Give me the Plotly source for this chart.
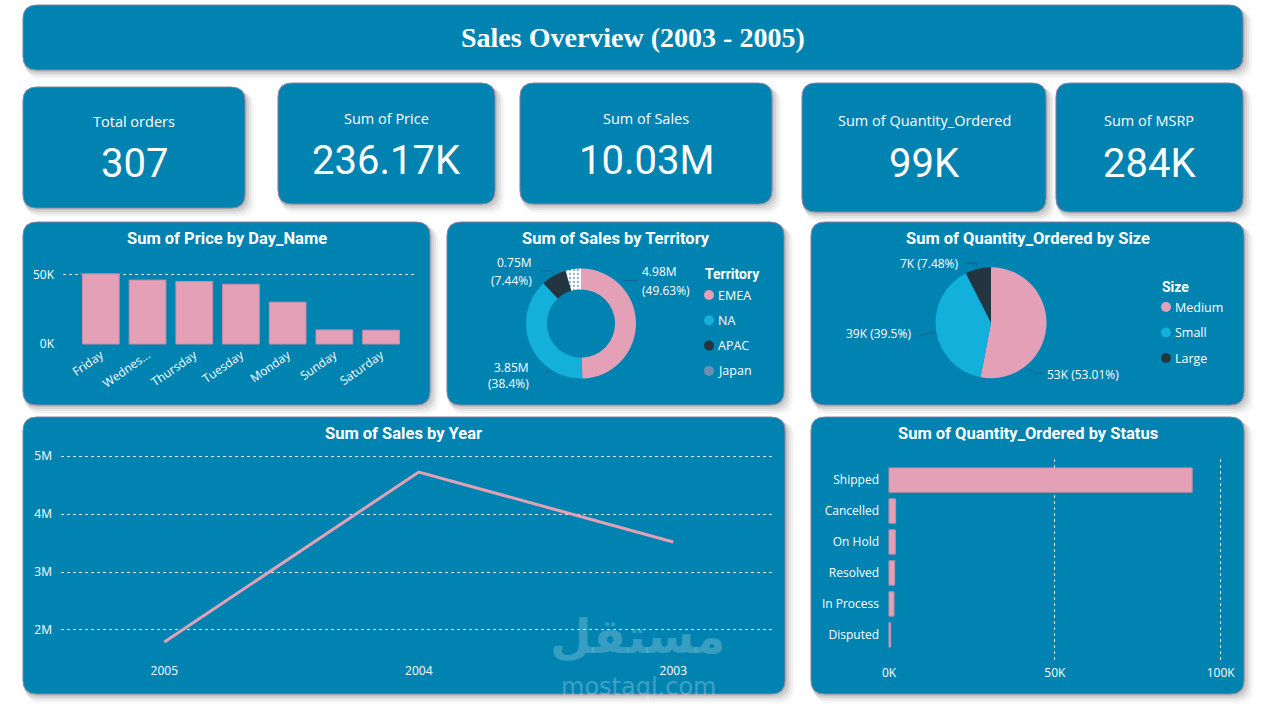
import plotly.graph_objects as go

W, H = 1275, 710

# ---------------- data ----------------
kpi_labels = ["Total orders", "Sum of Price", "Sum of Sales", "Sum of Quantity_Ordered", "Sum of MSRP"]
kpi_values = ["307", "236.17K", "10.03M", "99K", "284K"]

days = ["Friday", "Wednesday", "Thursday", "Tuesday", "Monday", "Sunday", "Saturday"]
day_ticktext = ["Friday", "Wednes...", "Thursday", "Tuesday", "Monday", "Sunday", "Saturday"]
price_by_day = [50800, 46300, 45300, 43300, 30300, 10200, 10000]
day_y_ticks = [0, 50000]
day_y_ticktext = ["0K", "50K"]

territories = ["EMEA", "NA", "APAC", "Japan"]
sales_by_territory = [4979272.41, 3852061.39, 746121.83, 455173.22]

sizes = ["Medium", "Small", "Large"]
qty_by_size = [52519, 39135, 7413]

years = ["2005", "2004", "2003"]
sales_by_year = [1791486.71, 4724162.60, 3516979.54]
year_y_ticks = [2e6, 3e6, 4e6, 5e6]
year_y_ticktext = ["2M", "3M", "4M", "5M"]

statuses = ["Shipped", "Cancelled", "On Hold", "Resolved", "In Process", "Disputed"]
qty_by_status = [91400, 2000, 1900, 1700, 1500, 500]
status_x_ticks = [0, 50000, 100000]
status_x_ticktext = ["0K", "50K", "100K"]

# ---------------- styles ----------------
PANEL = "#0083B1"
PINK = "#E4A0B7"
CYAN = "#12B0DB"
DARK = "#243542"
SLATE = "#6E8FB3"
territory_colors = [PINK, CYAN, DARK, SLATE]
size_colors = [PINK, CYAN, DARK]
WHITE = "#FFFFFF"
F_UI = "Open Sans"
F_DIN = "Roboto"


def X(v):
    return v / W


def Y(v):
    return 1 - v / H


def rrect(x0, y0, x1, y1, r):
    return (f"M{X(x0 + r)},{Y(y0)} L{X(x1 - r)},{Y(y0)} Q{X(x1)},{Y(y0)} {X(x1)},{Y(y0 + r)} "
            f"L{X(x1)},{Y(y1 - r)} Q{X(x1)},{Y(y1)} {X(x1 - r)},{Y(y1)} "
            f"L{X(x0 + r)},{Y(y1)} Q{X(x0)},{Y(y1)} {X(x0)},{Y(y1 - r)} "
            f"L{X(x0)},{Y(y0 + r)} Q{X(x0)},{Y(y0)} {X(x0 + r)},{Y(y0)} Z")


panels = [
    (23, 5, 1243, 70),
    (23, 87, 245, 208), (278, 83, 495, 204), (520, 83, 772, 204), (802, 83, 1046, 212), (1056, 83, 1243, 212),
    (23, 222, 430, 405), (447, 222, 784, 405), (811, 222, 1244, 405),
    (23, 417, 785, 694), (811, 417, 1244, 694),
]

shapes = []
for (x0, y0, x1, y1) in panels:
    for off, a in [(10, 0.02), (8, 0.035), (6, 0.05), (4, 0.07), (2, 0.08)]:
        shapes.append(dict(type="path", xref="paper", yref="paper", layer="below",
                           path=rrect(x0 + off * 0.6 - 2, y0 + off * 0.6, x1 + off, y1 + off, 15),
                           fillcolor=f"rgba(0,0,0,{a})", line=dict(width=0)))
for (x0, y0, x1, y1) in panels:
    shapes.append(dict(type="path", xref="paper", yref="paper", layer="below",
                       path=rrect(x0, y0, x1, y1, 14),
                       fillcolor=PANEL, line=dict(color="#8C7FA0", width=1)))

annotations = []


def text(x, y, s, size, font=F_UI, color=WHITE, anchor="center", bold=False, opacity=1.0):
    annotations.append(dict(x=X(x), y=Y(y), xref="paper", yref="paper", text=(f"<b>{s}</b>" if bold else s),
                            showarrow=False, xanchor=anchor, yanchor="middle",
                            font=dict(family=font, size=size, color=color), opacity=opacity))


# title
text(633, 37, "Sales Overview (2003 - 2005)", 28, font="Liberation Serif", bold=True)

# KPI cards
kpi_pos = [(134, 121, 163), (386, 118, 160), (646, 118, 160), (924, 120, 163), (1149, 120, 163)]
for lab, val, (cx, ly, vy) in zip(kpi_labels, kpi_values, kpi_pos):
    text(cx, ly, lab, 14.5)
    text(cx, vy, val, 40, font=F_DIN)

# panel titles
for s, cx, cy in [("Sum of Price by Day_Name", 227, 238), ("Sum of Sales by Territory", 616, 238),
                  ("Sum of Quantity_Ordered by Size", 1028, 238), ("Sum of Sales by Year", 404, 433),
                  ("Sum of Quantity_Ordered by Status", 1028, 433)]:
    text(cx, cy, s, 16.5, font=F_DIN, bold=True)


def fmt_pct(p):
    s = f"{p:.2f}".rstrip("0").rstrip(".")
    return s + "%"


# donut labels
tot_t = sum(sales_by_territory)
terr_label_pos = [(640, 272, 290, "left"), (531, 367, 384, "right"), (534, 263, 281, "right"), None]
for v, pos in zip(sales_by_territory, terr_label_pos):
    if pos is None:
        continue
    x, y1, y2, anc = pos
    text(x, y1, f"{v / 1e6:.2f}M", 12, anchor=anc)
    text(x, y2, f"({fmt_pct(100 * v / tot_t)})", 12, anchor=anc)

# pie labels
tot_s = sum(qty_by_size)
size_label_pos = [(1045, 374, "left"), (913, 333, "right"), (961, 264, "right")]
for v, (x, y, anc) in zip(qty_by_size, size_label_pos):
    text(x, y, f"{v / 1000:.0f}K ({fmt_pct(100 * v / tot_s)})", 12, anchor=anc)

# leader lines
LEAD = "rgba(50,70,90,0.55)"
for pts in [[(622, 281), (638, 280)], [(545, 374), (551, 370)], [(540, 271), (551, 271), (555, 275)],
            [(964, 263), (976, 263), (977, 267)], [(918, 336), (935, 332)], [(1027, 369), (1036, 373), (1043, 373)]]:
    p = "M" + " L".join(f"{X(a)},{Y(b)}" for a, b in pts)
    shapes.append(dict(type="path", xref="paper", yref="paper", path=p, line=dict(color=LEAD, width=1)))

# manual legends
text(703, 274, "Territory", 14, font=F_DIN, anchor="left", bold=True)
for i, (lab, col) in enumerate(zip(territories, territory_colors)):
    cy = 295 + i * 25.3
    shapes.append(dict(type="circle", xref="paper", yref="paper", x0=X(704), x1=X(714), y0=Y(cy - 5), y1=Y(cy + 5),
                       fillcolor=col, line=dict(width=0)))
    text(716, cy, lab, 12.5, anchor="left")
text(1160, 287, "Size", 14, font=F_DIN, anchor="left", bold=True)
for i, (lab, col) in enumerate(zip(sizes, size_colors)):
    cy = 307 + i * 25.5
    shapes.append(dict(type="circle", xref="paper", yref="paper", x0=X(1161), x1=X(1171), y0=Y(cy - 5), y1=Y(cy + 5),
                       fillcolor=col, line=dict(width=0)))
    text(1173, cy, lab, 12.5, anchor="left")

# watermark
text(638, 636, "مستقل", 48, font="DejaVu Sans", color="rgba(255,255,255,0.22)", bold=True)
text(638, 687, "mostaql.com", 24, font="DejaVu Sans", color="rgba(255,255,255,0.25)")

fig = go.Figure()

# Day bar chart
fig.add_trace(go.Bar(x=days, y=price_by_day, marker=dict(color=PINK, line=dict(color="#C98EA6", width=1)),
                     xaxis="x", yaxis="y", showlegend=False))
# Year line
fig.add_trace(go.Scatter(x=years, y=sales_by_year, mode="lines", line=dict(color=PINK, width=3),
                         xaxis="x2", yaxis="y2", showlegend=False))
# Status bars
fig.add_trace(go.Bar(x=qty_by_status, y=statuses, orientation="h",
                     marker=dict(color=PINK, line=dict(color="#C98EA6", width=1)),
                     xaxis="x3", yaxis="y3", showlegend=False))
# Territory donut
fig.add_trace(go.Pie(labels=territories, values=sales_by_territory, hole=0.62, sort=False,
                     direction="clockwise", rotation=0, textinfo="none", showlegend=False,
                     marker=dict(colors=territory_colors,
                                 pattern=dict(shape=["", "", "", "."], fgcolor="#93ADCA", size=4, solidity=0.25)),
                     domain=dict(x=[X(526), X(636)], y=[Y(378.5), Y(268.5)])))
# Size pie
fig.add_trace(go.Pie(labels=sizes, values=qty_by_size, sort=False, direction="clockwise", rotation=0,
                     textinfo="none", showlegend=False, marker=dict(colors=size_colors),
                     domain=dict(x=[X(935.5), X(1046.5)], y=[Y(378.2), Y(267.2)])))

tickfont = dict(family=F_UI, size=12, color=WHITE)
grid = dict(showgrid=True, gridcolor="rgba(255,255,255,0.85)", gridwidth=1, griddash="dot")
common = dict(automargin=False, zeroline=False, showline=False, fixedrange=True, tickfont=tickfont)

fig.update_layout(
    width=W, height=H, margin=dict(l=0, r=0, t=0, b=0, pad=0, autoexpand=False),
    paper_bgcolor="#FFFFFF", plot_bgcolor="rgba(0,0,0,0)",
    bargap=0.214, showlegend=False,
    shapes=shapes, annotations=annotations,
    xaxis=dict(domain=[X(63), X(417)], anchor="y", type="category", range=[-0.81, 6.77],
               tickvals=days, ticktext=day_ticktext, tickangle=-35, showgrid=False, **common),
    yaxis=dict(domain=[Y(345), Y(262)], anchor="x", range=[-720, 59400], tickvals=day_y_ticks,
               ticktext=day_y_ticktext, ticklabelstandoff=8, **grid, **common),
    xaxis2=dict(domain=[X(61), X(772)], anchor="y2", type="category", range=[-0.406, 2.388],
                showgrid=False, ticklabelstandoff=4, **common),
    yaxis2=dict(domain=[Y(658), Y(445)], anchor="x2", range=[1.517e6, 5.19e6], tickvals=year_y_ticks,
                ticktext=year_y_ticktext, ticklabelstandoff=8, **grid, **common),
    xaxis3=dict(domain=[X(888), X(1226)], anchor="y3", range=[-300, 101600], tickvals=status_x_ticks,
                ticktext=status_x_ticktext, ticklabelstandoff=4, **grid, **common),
    yaxis3=dict(domain=[Y(660), Y(459)], anchor="x3", type="category", categoryorder="array",
                categoryarray=statuses, range=[5.81, -0.68], showgrid=False, ticklabelstandoff=8, **common),
)

fig.write_html("out.html", config={"displayModeBar": False},
               post_script="document.body.style.margin='0';document.body.style.overflow='hidden';")
